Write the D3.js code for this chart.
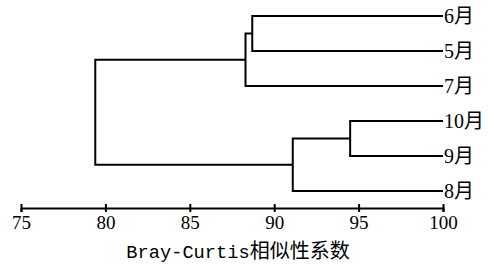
<!DOCTYPE html>
<html>
<head>
<meta charset="utf-8">
<script src="https://cdn.jsdelivr.net/npm/d3@7"></script>
<style>
  body { margin: 0; background: #fff; }
  svg { display: block; }
  .serif { font-family: "Liberation Serif", "Times New Roman", "DejaVu Serif", "Noto Sans CJK SC", serif; }
</style>
</head>
<body>
<div id="chart"></div>
<script>
// leaves, top to bottom
var leafLabels = ["6月", "5月", "7月", "10月", "9月", "8月"];
// merges: ids of the two joined items, and the similarity where they join
var mergeIds = ["A", "B", "C", "D", "root"];
var mergePairs = [["6月", "5月"], ["A", "7月"], ["10月", "9月"], ["C", "8月"], ["B", "D"]];
var mergeSimilarity = [88.7, 88.3, 94.5, 91.1, 79.4];
var tickValues = [75, 80, 85, 90, 95, 100];
var axisTitle = "Bray-Curtis";
var axisTitleCJK = "相似性系数";

var width = 488, height = 271;
var svg = d3.select("#chart").append("svg").attr("width", width).attr("height", height);

var x = d3.scaleLinear().domain([75, 100]).range([21, 443]);
var y = d3.scalePoint().domain(leafLabels).range([16, 191]);

// node positions
var pos = {};
leafLabels.forEach(function(d) {
    pos[d] = { x: x(100), y: y(d) };
});
mergeIds.forEach(function(id, i) {
    var a = pos[mergePairs[i][0]], b = pos[mergePairs[i][1]];
    pos[id] = { x: x(mergeSimilarity[i]), y: (a.y + b.y) / 2 };
});

var tree = svg.append("g");
mergeIds.forEach(function(id, i) {
    var a = pos[mergePairs[i][0]], b = pos[mergePairs[i][1]], m = pos[id];
    tree.append("path")
        .attr("d", "M" + a.x + "," + a.y + "H" + m.x + "V" + b.y + "H" + b.x)
        .attr("fill", "none")
        .attr("stroke", "#000")
        .attr("stroke-width", 2);
});

svg.append("g").selectAll("text").data(leafLabels).enter().append("text")
    .attr("class", "serif")
    .attr("x", x(100) + 1)
    .attr("y", function(d) { return y(d); })
    .attr("dy", "0.36em")
    .style("font-size", "20px")
    .text(function(d) { return d; });

// x axis
var axisY = 208;
var axis = svg.append("g").attr("transform", "translate(0," + axisY + ")")
    .call(d3.axisBottom(x).tickValues(tickValues).tickSizeOuter(0).tickSize(4).tickPadding(4));
axis.attr("font-family", null).attr("font-size", null);
axis.select(".domain").attr("stroke", "#000").attr("stroke-width", 2);
axis.selectAll(".tick line").attr("y1", -4).attr("y2", 4).attr("stroke", "#000").attr("stroke-width", 2);
axis.selectAll(".tick text")
    .attr("class", "serif")
    .attr("fill", "#000")
    .style("font-size", "19px");

var title = svg.append("text")
    .attr("x", 238)
    .attr("y", 258)
    .attr("text-anchor", "middle")
    .attr("fill", "#000");
title.append("tspan")
    .style("font-family", "'Liberation Mono', monospace")
    .style("font-size", "18.7px")
    .text(axisTitle);
title.append("tspan")
    .style("font-family", "'Noto Sans CJK SC', sans-serif")
    .style("font-size", "20px")
    .text(axisTitleCJK);
</script>
</body>
</html>
